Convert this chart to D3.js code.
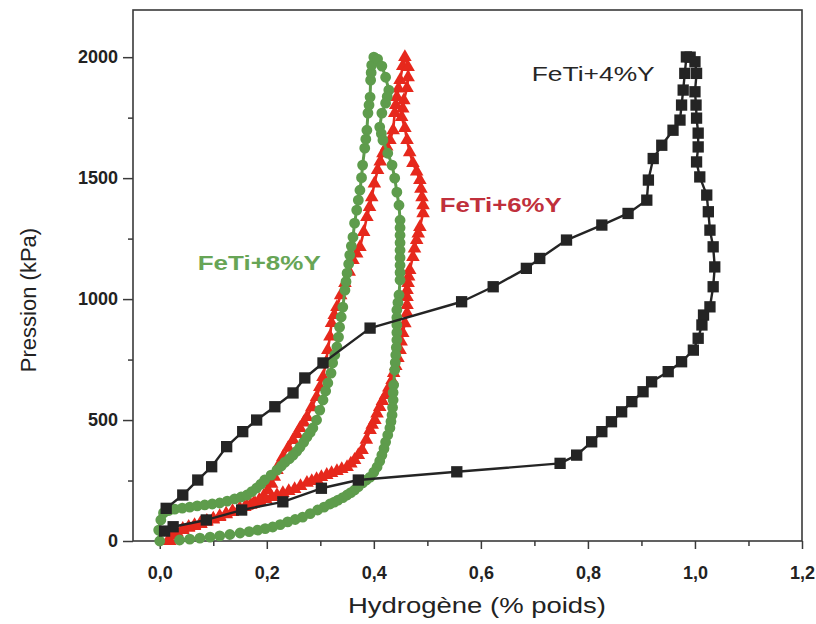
<!DOCTYPE html>
<html><head><meta charset="utf-8">
<script src="https://cdn.jsdelivr.net/npm/d3@7"></script>
<style>
body{margin:0;background:#fff;}
svg{display:block;font-family:"Liberation Sans",Arial,Helvetica,sans-serif;}
</style>
</head><body>
<svg id="chart" width="816" height="624"></svg>
<script>
// ---------- DATA ----------
const xTickValues = [0, 0.2, 0.4, 0.6, 0.8, 1.0, 1.2];
const xMinorTicks = [0.1, 0.3, 0.5, 0.7, 0.9, 1.1];
const yTickValues = [0, 500, 1000, 1500, 2000];
const yMinorTicks = [250, 750, 1250, 1750];
const xTitle = "Hydrogène (% poids)";
const yTitle = "Pression (kPa)";
const seriesNames = ["FeTi+4%Y", "FeTi+6%Y", "FeTi+8%Y"];

// FeTi+4%Y (black squares): absorption then desorption
const fe4Abs = [[0.012,135],[0.043,190],[0.071,252],[0.097,307],[0.125,390],[0.155,452],[0.181,500],[0.215,555],[0.249,612],[0.271,674],[0.305,736],[0.393,880],[0.564,989],[0.623,1051],[0.685,1127],[0.710,1168],[0.760,1244],[0.826,1306],[0.875,1354],[0.910,1409],[0.913,1492],[0.922,1581],[0.938,1636],[0.959,1698],[0.972,1740],[0.975,1802],[0.978,1864],[0.981,1933],[0.984,2001]];
const fe4Des = [[0.991,2000],[1.000,1981],[1.003,1933],[1.000,1857],[1.002,1802],[1.003,1748],[1.006,1686],[1.006,1629],[1.003,1567],[1.009,1505],[1.022,1430],[1.025,1361],[1.028,1285],[1.034,1216],[1.037,1133],[1.034,1051],[1.028,968],[1.016,934],[1.013,893],[1.006,838],[0.997,789],[0.975,741],[0.950,700],[0.919,658],[0.903,617],[0.882,576],[0.863,534],[0.844,493],[0.826,452],[0.807,410],[0.779,355],[0.748,321],[0.555,286],[0.371,252],[0.302,218],[0.230,162],[0.153,128],[0.087,87],[0.025,59],[0.009,41]];

// FeTi+6%Y (red triangles)
const fe6Abs = [[0.019,0],[0.028,25],[0.043,45],[0.054,54],[0.065,62],[0.077,70],[0.088,79],[0.100,89],[0.112,99],[0.124,110],[0.136,120],[0.148,130],[0.159,140],[0.170,150],[0.178,157],[0.186,170],[0.194,186],[0.202,210],[0.209,236],[0.214,265],[0.219,293],[0.224,320],[0.230,347],[0.240,385],[0.249,417],[0.256,442],[0.262,467],[0.269,490],[0.275,512],[0.284,553],[0.293,595],[0.299,636],[0.305,678],[0.310,734],[0.314,789],[0.318,845],[0.321,901],[0.326,934],[0.331,967],[0.338,1016],[0.346,1066],[0.354,1113],[0.361,1161],[0.368,1188],[0.374,1215],[0.381,1277],[0.387,1339],[0.392,1380],[0.396,1421],[0.401,1477],[0.407,1533],[0.412,1568],[0.417,1603],[0.424,1630],[0.430,1657],[0.436,1698],[0.439,1769],[0.441,1802],[0.443,1835],[0.446,1870],[0.449,1905],[0.454,1963],[0.458,2000]];
const fe6Des = [[0.464,1959],[0.464,1917],[0.462,1872],[0.456,1822],[0.454,1787],[0.452,1752],[0.458,1707],[0.462,1657],[0.467,1607],[0.473,1562],[0.480,1527],[0.486,1492],[0.488,1456],[0.490,1421],[0.492,1388],[0.492,1355],[0.486,1298],[0.483,1271],[0.480,1244],[0.476,1209],[0.473,1174],[0.467,1120],[0.465,1093],[0.464,1066],[0.462,1037],[0.462,1008],[0.462,975],[0.462,942],[0.458,900],[0.454,860],[0.451,824],[0.449,789],[0.445,756],[0.441,723],[0.437,694],[0.434,665],[0.428,634],[0.422,603],[0.416,578],[0.411,554],[0.406,527],[0.402,500],[0.397,480],[0.393,459],[0.386,418],[0.378,376],[0.371,355],[0.364,335],[0.357,320],[0.350,306],[0.340,297],[0.331,289],[0.321,281],[0.312,273],[0.302,264],[0.293,256],[0.284,248],[0.275,240],[0.263,227],[0.252,215],[0.241,206],[0.230,198],[0.219,190],[0.209,182],[0.198,173],[0.187,165],[0.175,155],[0.163,145],[0.150,134],[0.136,124],[0.124,113],[0.112,103],[0.100,93],[0.088,83],[0.076,74],[0.065,66],[0.054,58],[0.043,50],[0.032,36],[0.022,21],[0.015,0]];

// FeTi+8%Y (green circles)
const fe8Abs = [[0.000,0],[-0.002,45],[0.002,87],[0.007,116],[0.017,126],[0.028,132],[0.042,136],[0.056,140],[0.070,145],[0.084,149],[0.098,153],[0.112,157],[0.126,165],[0.140,174],[0.152,182],[0.163,190],[0.172,204],[0.181,219],[0.189,235],[0.196,252],[0.208,272],[0.219,293],[0.227,310],[0.234,326],[0.242,340],[0.249,355],[0.256,371],[0.262,388],[0.269,409],[0.275,430],[0.281,449],[0.286,467],[0.293,500],[0.299,541],[0.305,583],[0.310,620],[0.314,653],[0.320,694],[0.323,736],[0.327,769],[0.331,802],[0.334,843],[0.336,884],[0.339,926],[0.342,967],[0.346,1037],[0.348,1072],[0.350,1107],[0.353,1145],[0.355,1182],[0.358,1219],[0.361,1256],[0.364,1314],[0.368,1368],[0.371,1409],[0.374,1450],[0.377,1502],[0.379,1554],[0.383,1624],[0.385,1661],[0.387,1698],[0.389,1769],[0.391,1802],[0.393,1835],[0.394,1905],[0.395,1936],[0.396,1967],[0.400,2000]];
const fe8Des = [[0.407,1992],[0.415,1963],[0.422,1917],[0.428,1864],[0.425,1837],[0.422,1810],[0.415,1769],[0.411,1711],[0.414,1684],[0.417,1657],[0.426,1603],[0.434,1554],[0.439,1500],[0.443,1442],[0.447,1388],[0.449,1326],[0.449,1295],[0.449,1264],[0.449,1233],[0.449,1202],[0.449,1171],[0.449,1140],[0.449,1110],[0.449,1079],[0.447,1017],[0.445,986],[0.443,955],[0.443,924],[0.443,893],[0.443,862],[0.443,831],[0.442,800],[0.441,769],[0.440,738],[0.439,707],[0.437,645],[0.436,614],[0.436,583],[0.435,552],[0.434,521],[0.432,494],[0.430,467],[0.426,438],[0.422,409],[0.419,382],[0.415,355],[0.411,330],[0.406,306],[0.400,285],[0.393,264],[0.386,252],[0.379,240],[0.371,225],[0.364,211],[0.357,200],[0.350,190],[0.342,179],[0.333,169],[0.326,161],[0.318,153],[0.307,140],[0.295,128],[0.281,113],[0.267,99],[0.253,89],[0.239,79],[0.225,68],[0.211,58],[0.197,51],[0.183,45],[0.167,39],[0.150,33],[0.131,27],[0.112,21],[0.094,16],[0.075,12],[0.056,8],[0.037,4]];

// label anchor points in data units
const labelPos = [[0.695,1900],[0.523,1360],[0.071,1120]];

// ---------- CHART ----------
const svg = d3.select("#chart");
const L = 133, R = 802, T = 10, B = 541;
const x = d3.scaleLinear().domain([-0.05, 1.2]).range([L, R]);
const y = d3.scaleLinear().domain([0, 2195]).range([B, T]);
const fmt = d => d3.format(".1f")(d).replace(".", ",");

// frame
svg.append("rect").attr("x", L).attr("y", T).attr("width", R - L).attr("height", B - T)
  .attr("fill", "none").attr("stroke", "#3a3a3a").attr("stroke-width", 1.6);

// axes
const gx = svg.append("g").attr("transform", `translate(0,${B})`)
  .call(d3.axisBottom(x).tickValues(xTickValues).tickFormat(fmt).tickSize(8).tickPadding(17).tickSizeOuter(0));
const gxm = svg.append("g").attr("transform", `translate(0,${B})`)
  .call(d3.axisBottom(x).tickValues(xMinorTicks).tickFormat("").tickSize(5).tickSizeOuter(0));
const gy = svg.append("g").attr("transform", `translate(${L},0)`)
  .call(d3.axisLeft(y).tickValues(yTickValues).tickFormat(d3.format("d")).tickSize(10).tickPadding(5).tickSizeOuter(0));
const gym = svg.append("g").attr("transform", `translate(${L},0)`)
  .call(d3.axisLeft(y).tickValues(yMinorTicks).tickFormat("").tickSize(5).tickSizeOuter(0));
[gx, gxm, gy, gym].forEach(g => {
  g.select(".domain").remove();
  g.selectAll("line").attr("stroke", "#3a3a3a").attr("stroke-width", 1.5);
  g.selectAll("text").attr("fill", "#222").style("font-size", "18px").style("font-weight", "bold")
    .style("font-family", '"Liberation Sans",Arial,sans-serif');
});

// axis titles
svg.append("text").attr("x", 477).attr("y", 613).attr("text-anchor", "middle")
  .attr("textLength", 258).attr("lengthAdjust", "spacingAndGlyphs")
  .style("font-size", "22px").attr("fill", "#222").text(xTitle);
svg.append("text").attr("transform", "translate(36,300) rotate(-90)").attr("text-anchor", "middle")
  .style("font-size", "22px").attr("fill", "#222").text(yTitle);

const line = d3.line().x(d => x(d[0])).y(d => y(d[1]));

function drawSeries(data, color, lw, symbolType, size) {
  const g = svg.append("g");
  g.append("path").datum(data).attr("d", line).attr("fill", "none")
    .attr("stroke", color).attr("stroke-width", lw).attr("stroke-linejoin", "round");
  g.selectAll("path.m").data(data).join("path").attr("class", "m")
    .attr("transform", d => `translate(${x(d[0])},${y(d[1])})`)
    .attr("d", d3.symbol().type(symbolType).size(size))
    .attr("fill", color);
}

drawSeries(fe6Abs.concat(fe6Des), "#e6281c", 2.6, d3.symbolTriangle, 80);
drawSeries(fe8Abs.concat(fe8Des), "#5e9c4c", 3, d3.symbolCircle, 92);
drawSeries(fe4Abs.concat(fe4Des), "#242424", 2.4, d3.symbolSquare, 128);

// series labels
const labelColors = ["#262626", "#c0303c", "#67a556"];
const labelWeights = ["normal", "bold", "bold"];
const labelLens = [123, 122, 123];
seriesNames.forEach((n, i) => {
  svg.append("text").attr("x", x(labelPos[i][0])).attr("y", y(labelPos[i][1]))
    .attr("textLength", labelLens[i]).attr("lengthAdjust", "spacingAndGlyphs")
    .style("font-size", "21px").style("font-weight", labelWeights[i])
    .attr("fill", labelColors[i]).text(n);
});
</script>
</body></html>
